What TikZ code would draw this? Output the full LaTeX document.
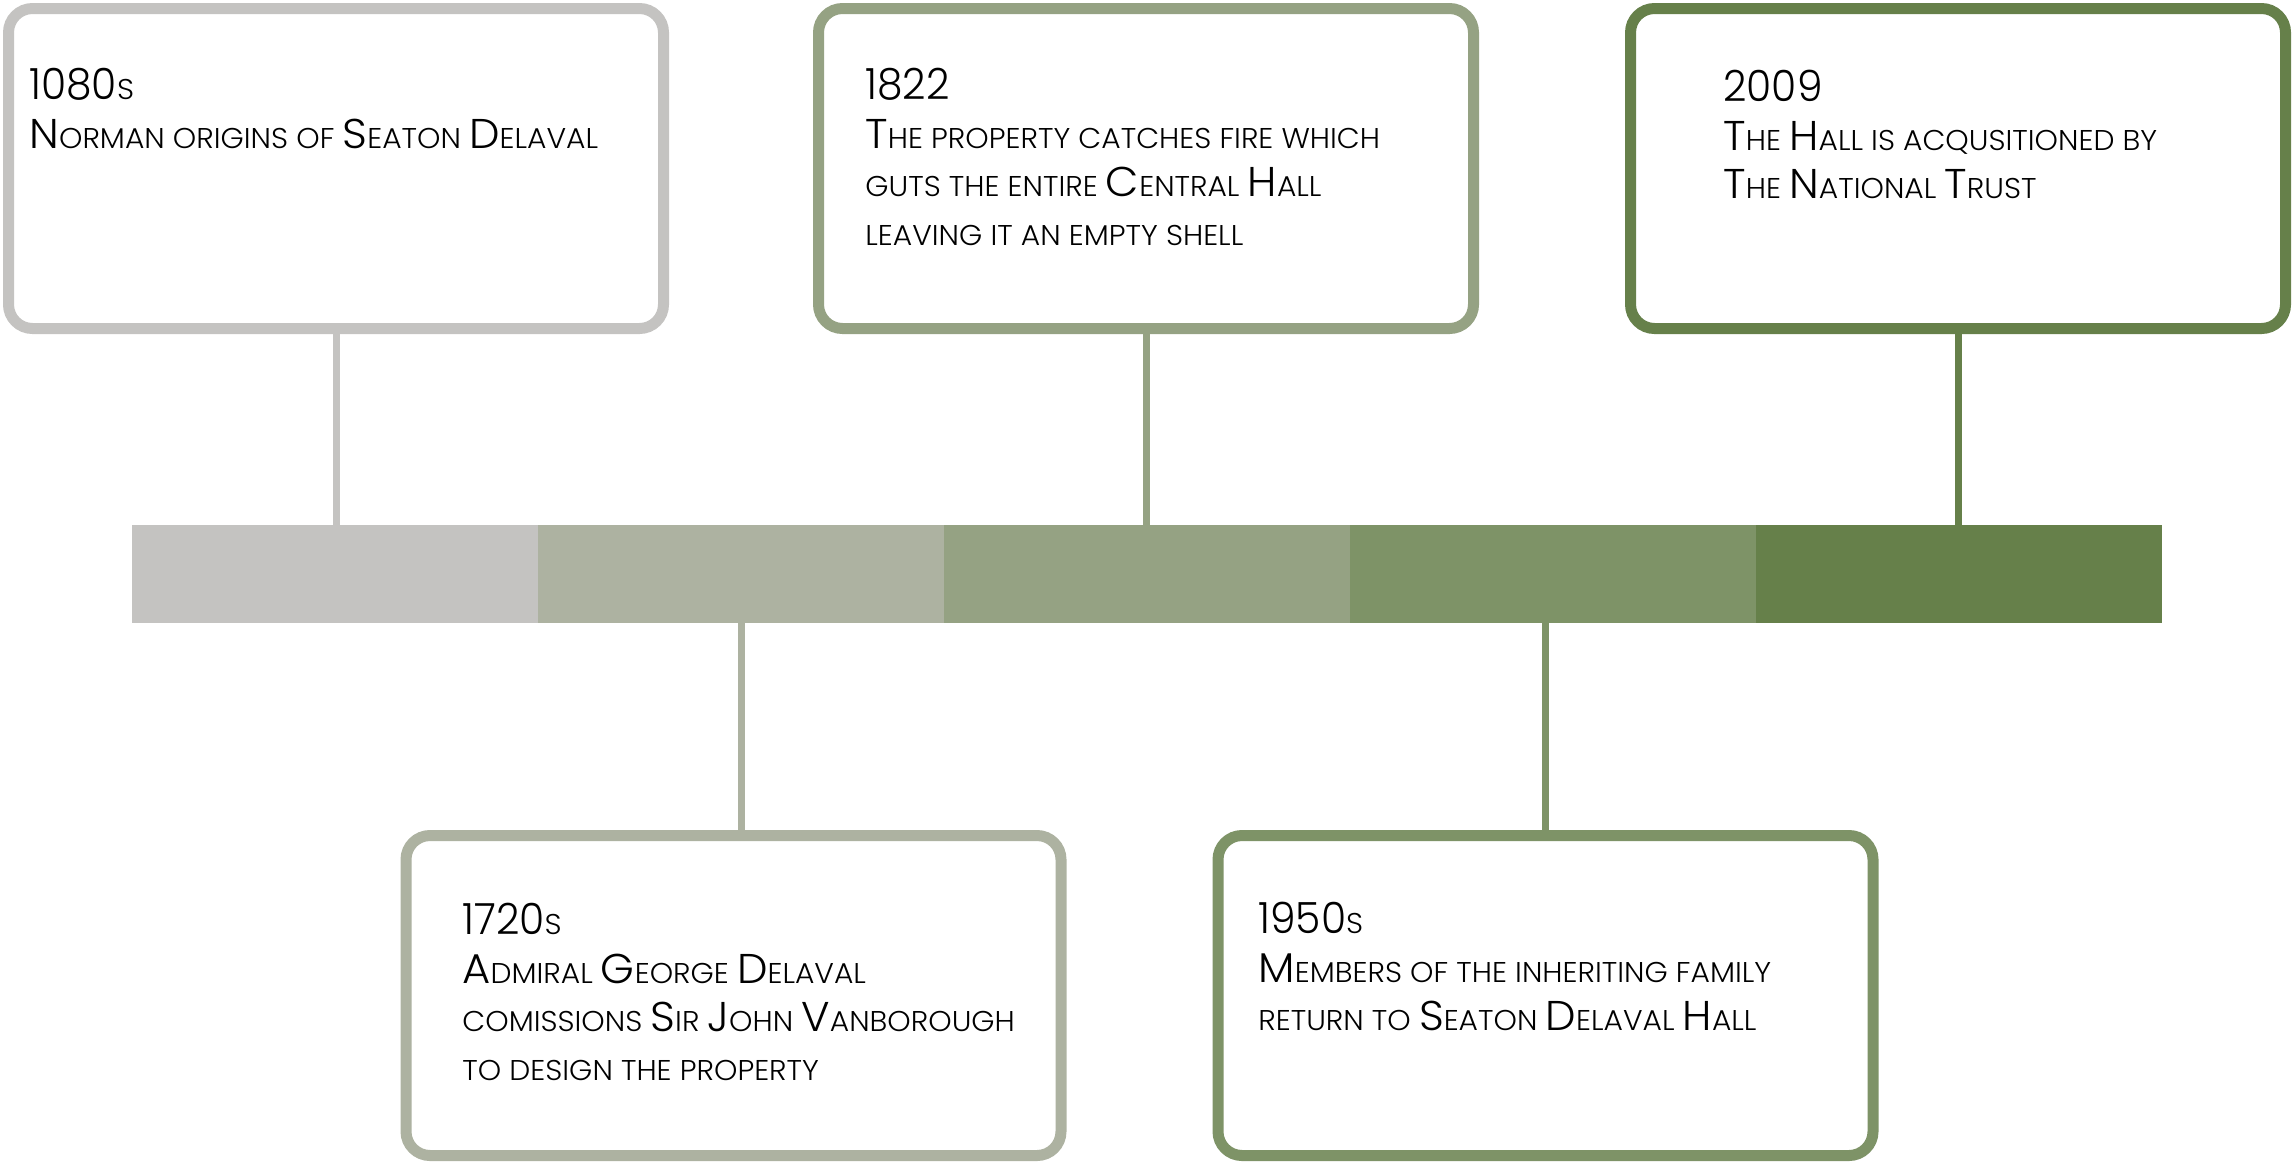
\documentclass[tikz,border=0pt]{standalone}
\usepackage{fontspec}
\setmainfont{Poppins Light}[FakeStretch=1.04]
\newfontfamily\yrfont{Poppins Light}[FakeStretch=0.95]
\definecolor{cA}{HTML}{C4C3C1}
\definecolor{cB}{HTML}{ADB2A1}
\definecolor{cC}{HTML}{95A283}
\definecolor{cD}{HTML}{7E9367}
\definecolor{cE}{HTML}{66804A}
\newcommand\BC[1]{{\fontsize{20.8}{24.25}\selectfont #1}}
\newcommand\YR[1]{{\yrfont\fontsize{21.5}{24.25}\selectfont #1}}
\tikzset{
  evbox/.style={draw=#1, line width=5.5pt, rounded corners=12pt, fill=white,
    minimum width=327.5pt, minimum height=160pt, inner sep=0pt},
  seg/.style={fill=#1, draw=none, minimum width=203pt, minimum height=49pt, inner sep=0pt},
  stem/.style={draw=#1, line width=3.5pt},
  evtext/.style={anchor=north west, inner sep=0pt, align=left, text=black,
    font=\fontsize{14.3}{24.25}\selectfont}
}
\begin{document}
\begin{tikzpicture}[x=0.5pt, y=-0.5pt]
\useasboundingbox (0,0) rectangle (2294,1164);
% bar segments
\node[seg=cA] (s1) at (335,574) {};
\node[seg=cB] (s2) at (741,574) {};
\node[seg=cC] (s3) at (1147,574) {};
\node[seg=cD] (s4) at (1553,574) {};
\node[seg=cE] (s5) at (1959,574) {};
% boxes
\node[evbox=cA] (b1) at (336,168.5) {};
\node[evbox=cC] (b2) at (1146,168.5) {};
\node[evbox=cE] (b3) at (1958,168.5) {};
\node[evbox=cB] (b4) at (733.5,995.5) {};
\node[evbox=cD] (b5) at (1545.5,995.5) {};
% stems
\draw[stem=cA] (b1.south) -- (b1.south |- s1.north);
\draw[stem=cC] (b2.south) -- (b2.south |- s3.north);
\draw[stem=cE] (b3.south) -- (b3.south |- s5.north);
\draw[stem=cB] (s2.south) -- (s2.south |- b4.north);
\draw[stem=cD] (b5.north) -- (b5.north |- s4.south);
% texts
\node[evtext] (t1) at (29,68) {\YR{1080}S\\ \BC{N}ORMAN ORIGINS OF \BC{S}EATON \BC{D}ELAVAL};
\node[evtext] (t2) at (865,68) {\YR{1822}\\ \BC{T}HE PROPERTY CATCHES FIRE WHICH\\ GUTS THE ENTIRE \BC{C}ENTRAL \BC{H}ALL\\ LEAVING IT AN EMPTY SHELL};
\node[evtext] (t3) at (1723,70) {\YR{2009}\\ \BC{T}HE \BC{H}ALL IS ACQUSITIONED BY\\ \BC{T}HE \BC{N}ATIONAL \BC{T}RUST};
\node[evtext] (t4) at (462,903) {\YR{1720}S\\ \BC{A}DMIRAL \BC{G}EORGE \BC{D}ELAVAL\\ COMISSIONS \BC{S}IR \BC{J}OHN \BC{V}ANBOROUGH\\ TO DESIGN THE PROPERTY};
\node[evtext] (t5) at (1258,902) {\YR{1950}S\\ \BC{M}EMBERS OF THE INHERITING FAMILY\\ RETURN TO \BC{S}EATON \BC{D}ELAVAL \BC{H}ALL};
\end{tikzpicture}
\end{document}
